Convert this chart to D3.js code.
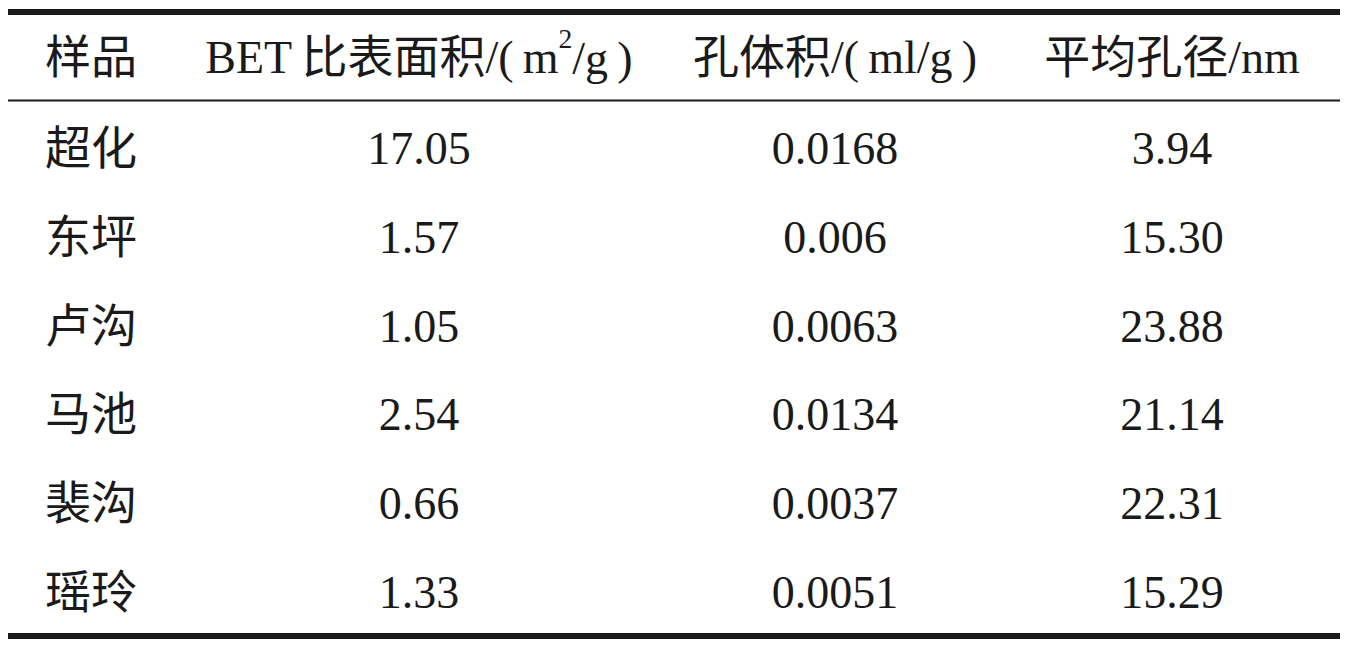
<!DOCTYPE html>
<html lang="zh">
<head>
<meta charset="UTF-8">
<title>样品孔隙参数</title>
<style>
  body { margin: 0; background: #fff; }
  svg text { font-family: "Liberation Serif", "Noto Sans CJK SC", serif; fill: #1a1a1a; }
</style>
</head>
<body>
<div id="table"></div>
<script src="https://d3js.org/d3.v7.min.js"></script>
<script>
// table data
var headers = ["样品", "BET\u2009比表面积/(\u2009m²/g\u2009)", "孔体积/(\u2009ml/g\u2009)", "平均孔径/nm"];
var samples = ["超化", "东坪", "卢沟", "马池", "裴沟", "瑶玲"];
var betArea = ["17.05", "1.57", "1.05", "2.54", "0.66", "1.33"];
var poreVolume = ["0.0168", "0.006", "0.0063", "0.0134", "0.0037", "0.0051"];
var poreDiameter = ["3.94", "15.30", "23.88", "21.14", "22.31", "15.29"];

var width = 1347, height = 650;
var fontSize = 46;

var svg = d3.select("#table").append("svg")
    .attr("width", width)
    .attr("height", height);

// body rows, below the header rule
var y = d3.scaleBand()
    .domain(samples)
    .range([104, 636]);
var headerY = 57;

// column centres (first column is left aligned)
var colX = d3.scaleOrdinal()
    .domain([0, 1, 2, 3])
    .range([45, 419, 835, 1172]);

// rules
var rules = [
    {y: 12, w: 6},
    {y: 100.5, w: 2.2},
    {y: 636, w: 6}
];
svg.selectAll("line.rule")
    .data(rules)
    .enter().append("line")
    .attr("class", "rule")
    .attr("x1", 8).attr("x2", 1340)
    .attr("y1", function(d) { return d.y; })
    .attr("y2", function(d) { return d.y; })
    .attr("stroke", "#1a1a1a")
    .attr("stroke-width", function(d) { return d.w; });

// header
var head = svg.append("g").attr("class", "header");
headers.forEach(function(h, i) {
    var t = head.append("text")
        .attr("x", colX(i))
        .attr("y", headerY)
        .attr("dy", "0.35em")
        .attr("font-size", fontSize)
        .attr("text-anchor", i === 0 ? "start" : "middle");
    if (h.indexOf("²") >= 0) {
        var parts = h.split("²");
        t.append("tspan").text(parts[0]);
        t.append("tspan").attr("font-size", fontSize * 0.6).attr("dy", "-0.9em").text("2");
        t.append("tspan").attr("dy", "0.55em").text(parts[1]);
    } else {
        t.text(h);
    }
});

// body rows
var rows = samples.map(function(s, i) {
    return [s, betArea[i], poreVolume[i], poreDiameter[i]];
});

var rowG = svg.selectAll("g.row")
    .data(rows)
    .enter().append("g")
    .attr("class", "row");

rowG.selectAll("text")
    .data(function(d, i) { return d.map(function(v, j) { return {v: v, j: j, key: samples[i]}; }); })
    .enter().append("text")
    .attr("x", function(d) { return colX(d.j); })
    .attr("y", function(d) { return y(d.key) + y.bandwidth() / 2; })
    .attr("dy", "0.35em")
    .attr("font-size", fontSize)
    .attr("text-anchor", function(d) { return d.j === 0 ? "start" : "middle"; })
    .text(function(d) { return d.v; });
</script>
</body>
</html>
